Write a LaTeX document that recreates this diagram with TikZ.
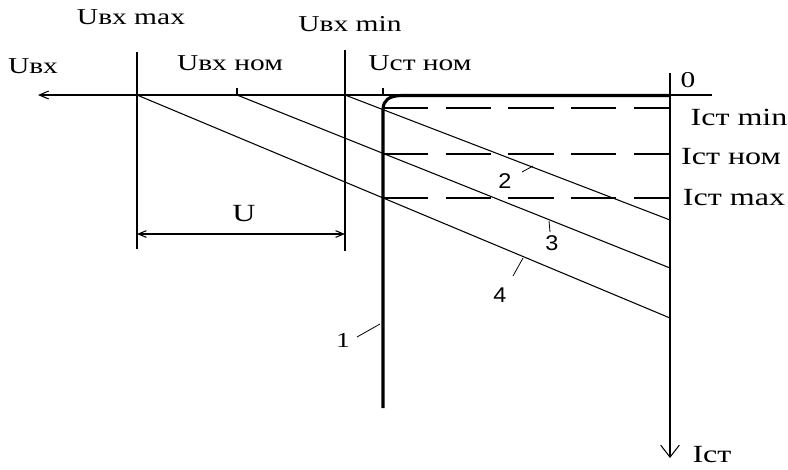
\documentclass[tikz,border=0pt]{standalone}
\usepackage{fontspec}
\setmainfont{Liberation Serif}
\newfontfamily\stretchserif[FakeStretch=1.3]{Liberation Serif}
\newfontfamily\numsans[FakeStretch=1.1]{Liberation Sans}
\usetikzlibrary{arrows.meta}
\begin{document}
\begin{tikzpicture}[x=0.75pt,y=-0.75pt,
  thinln/.style={line width=0.8pt},
  thickln/.style={line width=2.3pt},
  dashln/.style={line width=0.9pt, dash pattern=on 34pt off 13pt},
  leadln/.style={line width=0.6pt},
  lbl/.style={font=\stretchserif\fontsize{17}{19}\selectfont, inner sep=0pt},
  lbli/.style={font=\stretchserif\fontsize{18.5}{20}\selectfont, inner sep=0pt},
  numl/.style={font=\numsans\fontsize{16}{18}\selectfont, inner sep=0pt},
  numr/.style={font=\stretchserif\fontsize{16}{18}\selectfont, inner sep=0pt}]
\useasboundingbox (0,0) rectangle (788,469);
% key points
\coordinate (O) at (670,95.5);
\coordinate (xend) at (712,95);
\coordinate (xtip) at (38,95);
\coordinate (ytop) at (670,73);
\coordinate (ytip) at (670,458);
\coordinate (a4) at (137,95);
\coordinate (a3) at (237,95);
\coordinate (a2) at (345,95);
\coordinate (b4) at (670,318);
\coordinate (b3) at (670,268);
\coordinate (b2) at (670,220);
\coordinate (vmaxT) at (137,52);
\coordinate (vmaxB) at (137,249);
\coordinate (vminT) at (345,50);
\coordinate (vminB) at (345,251);
\coordinate (tnomT) at (237,88);
\coordinate (dimL) at (137,234);
\coordinate (dimR) at (345,234);
\coordinate (stT) at (383,88);
\coordinate (stO) at (383,95);
\coordinate (kneeS) at (383,109);
\coordinate (kneeE) at (401,95.5);
\coordinate (stB) at (383,408);
\coordinate (dminL) at (383,108);
\coordinate (dminR) at (670,108);
\coordinate (dnomL) at (383,154);
\coordinate (dnomR) at (670,154);
\coordinate (dmaxL) at (383,198);
\coordinate (dmaxR) at (670,198);
\coordinate (l1a) at (357,337);
\coordinate (l1b) at (380,324);
\coordinate (l2a) at (522,172);
\coordinate (l2b) at (533,166);
\coordinate (l3a) at (549,221);
\coordinate (l3b) at (550,232);
\coordinate (l4a) at (513,276);
\coordinate (l4b) at (523,258);

% axes
\draw[thinln,-{Straight Barb[length=7pt,width=6pt]}] (xend) -- (xtip);
\draw[thinln,-{Straight Barb[length=9pt,width=14pt]}] (ytop) -- (ytip);

% verticals and ticks
\draw[thinln] (vmaxT) -- (vmaxB);
\draw[thinln] (vminT) -- (vminB);
\draw[thinln] (tnomT) -- (a3);
\draw[thinln] (stT) -- (stO);

% dimension U
\draw[thinln,{Straight Barb[length=6pt,width=5pt]}-{Straight Barb[length=6pt,width=5pt]}] (dimL) -- (dimR);

% load lines
\draw[thinln] (a4) -- (b4);
\draw[thinln] (a3) -- (b3);
\draw[thinln] (a2) -- (b2);

% dashed current levels
\draw[dashln] (dminL) -- (dminR);
\draw[dashln] (dnomL) -- (dnomR);
\draw[dashln] (dmaxL) -- (dmaxR);

% stabilizer characteristic
\draw[thickln] (stB) -- (kneeS) .. controls (383.5,100) and (389,96) .. (kneeE) -- (O);

% leaders
\draw[leadln] (l1a) -- (l1b);
\draw[leadln] (l2a) -- (l2b);
\draw[leadln] (l3a) -- (l3b);
\draw[leadln] (l4a) -- (l4b);

% labels
\node[lbl] (tUmax) at (131,17) {Uвх max};
\node[lbl] (tUmin) at (350,24) {Uвх min};
\node[lbl] (tUnom) at (230,63) {Uвх ном};
\node[lbl] (tUvx) at (33,66) {Uвх};
\node[lbl] (tUst) at (420,63) {Uст ном};
\node[lbl] (tzero) at (688,80) {0};
\node[lbli] (tImin) at (739,117) {Iст min};
\node[lbli] (tInom) at (731,157) {Iст ном};
\node[lbli] (tImax) at (734,198) {Iст max};
\node[lbli] (tIst) at (712,455) {Iст};
\node[lbli] (tU) at (244,214) {U};
\node[numr] (n1) at (343,340) {1};
\node[numl] (n2) at (505,181) {2};
\node[numl] (n3) at (552,243) {3};
\node[numl] (n4) at (500,295) {4};
\end{tikzpicture}
\end{document}
